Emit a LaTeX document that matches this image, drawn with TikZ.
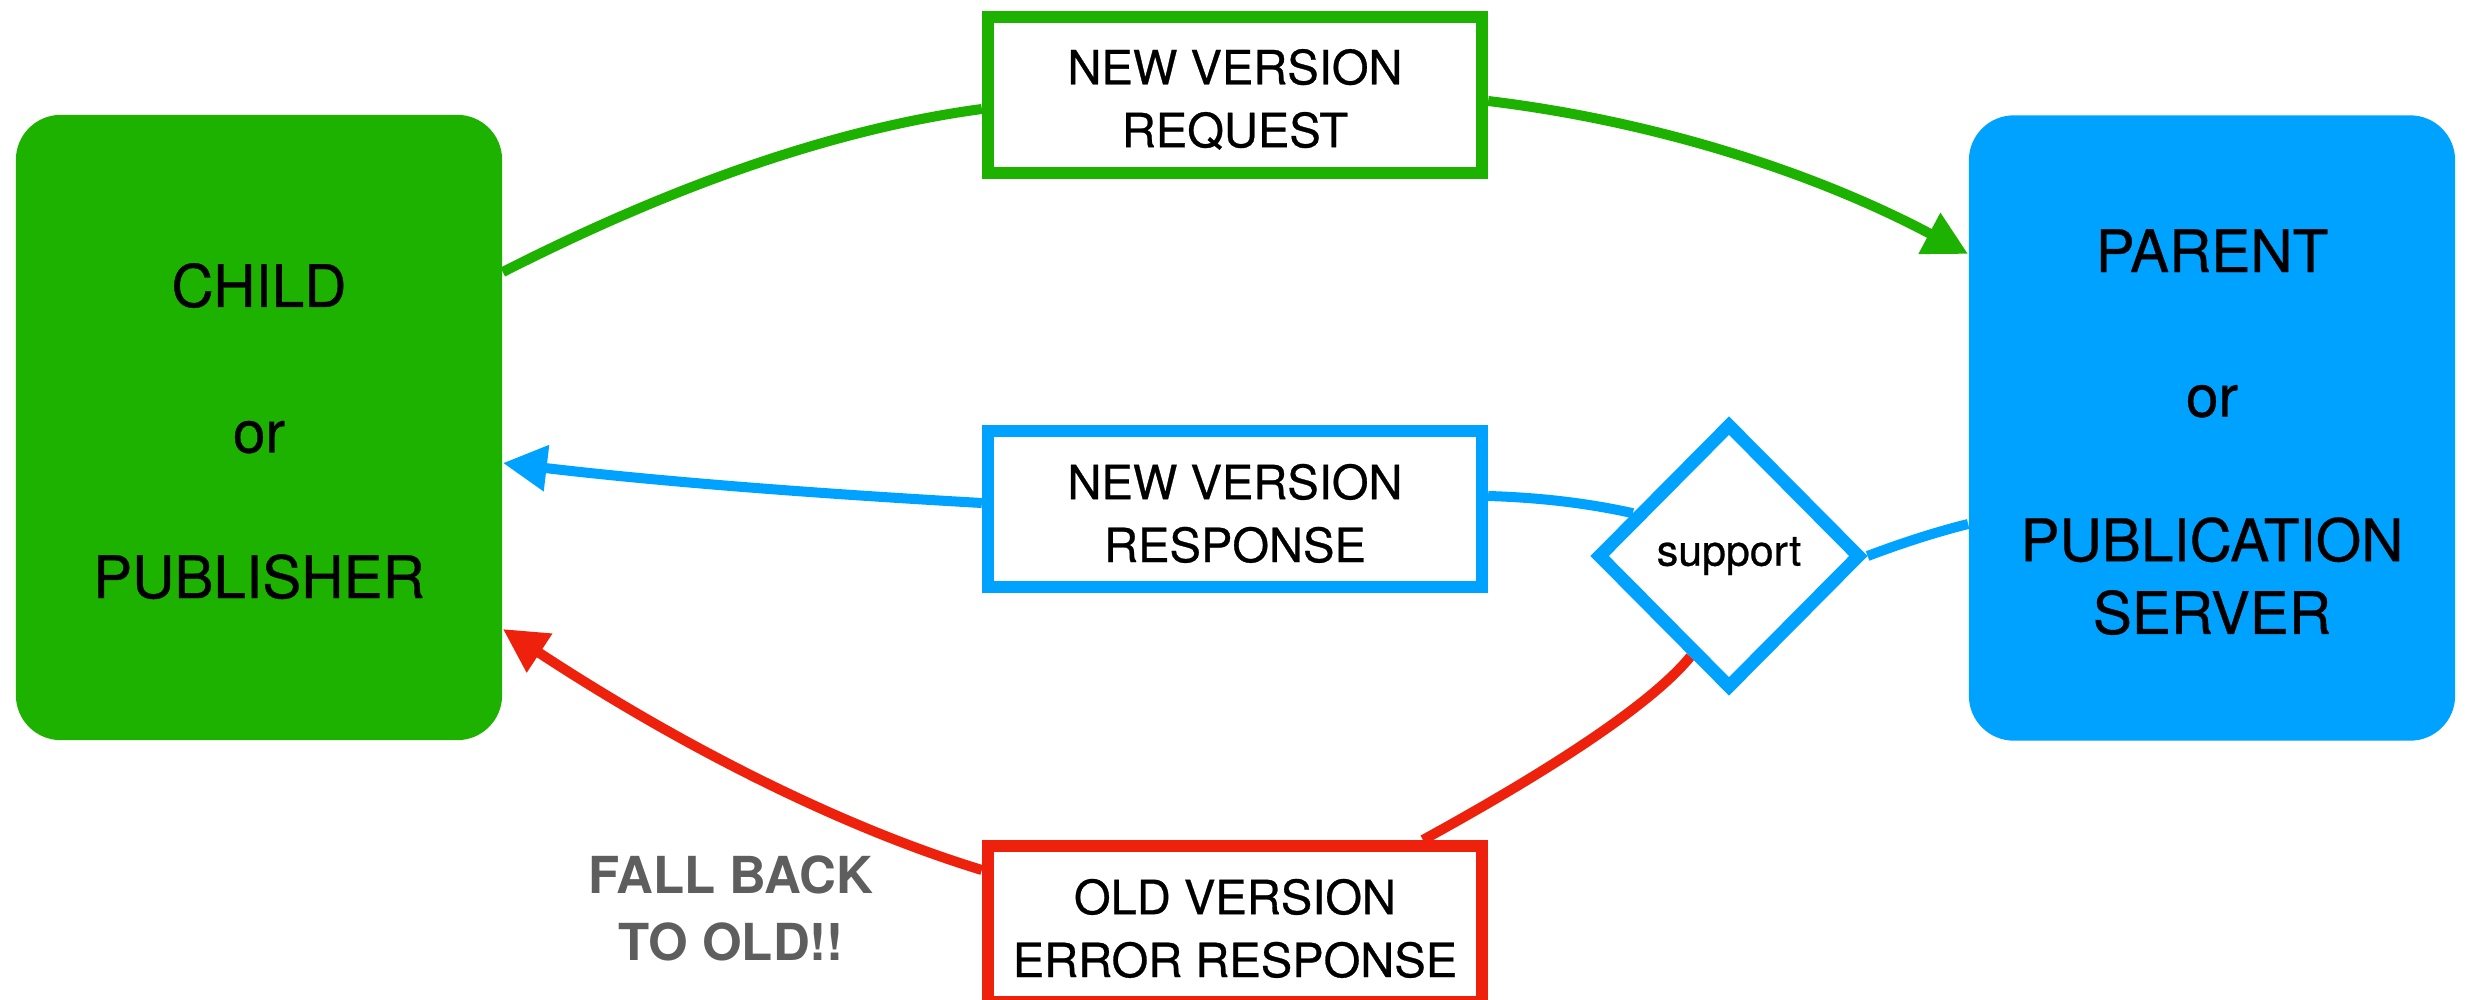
\documentclass[tikz,border=0pt]{standalone}
\usepackage{fontspec}
\setmainfont{TeX Gyre Heros}
\newfontfamily\medium{TeX Gyre Heros}[FakeBold=0.6]
\usetikzlibrary{arrows.meta,shapes.geometric,calc,backgrounds}

\definecolor{kgreen}{HTML}{1DB100}
\definecolor{kblue}{HTML}{00A2FF}
\definecolor{kred}{HTML}{EE220C}
\definecolor{kgray}{HTML}{5E5E5E}

\newcommand\actorfont{\medium\fontsize{16.64pt}{20.7pt}\selectfont}
\newcommand\msgfont{\medium\fontsize{13.4pt}{17.9pt}\selectfont}
\newcommand\decfont{\medium\fontsize{12.2pt}{14pt}\selectfont}
\newcommand\notefont{\fontsize{14.5pt}{19.1pt}\selectfont\bfseries}

\tikzset{
  actor/.style={rectangle, rounded corners=0.45cm, minimum width=4.86cm,
    minimum height=6.25cm, inner sep=0pt, align=center, font=\actorfont},
  msgbox/.style={rectangle, draw, line width=3.56pt, fill=white,
    minimum width=4.935cm, minimum height=1.555cm, inner sep=0pt,
    align=center, font=\msgfont},
  link/.style={line width=2.85pt},
  headed/.style={-{Triangle[length=12.5pt,width=12.5pt]}},
}

\begin{document}
\begin{tikzpicture}[x=0.01cm, y=-0.01cm]
\useasboundingbox (0,0) rectangle (2465,1000);

% the two parties
\node[actor, fill=kgreen] (child) at (259,427.5)
  {\strut CHILD\\[20.7pt]or\\[20.7pt]PUBLISHER};
\node[actor, fill=kblue] (parent) at (2212,428)
  {\strut PARENT\\[20.4pt]or\\[20.4pt]PUBLICATION\\SERVER};

% message labels
\node[msgbox, draw=kgreen] (req)  at (1235,95)  {\strut NEW VERSION\\REQUEST};
\node[msgbox, draw=kblue]  (resp) at (1235,509) {\strut NEW VERSION\\RESPONSE};
\node[msgbox, draw=kred]   (err)  at (1235,924) {\strut OLD VERSION\\ERROR RESPONSE};

% decision on the server side
\node[diamond, draw=kblue, line width=3.7pt, fill=white, inner sep=0pt,
  minimum width=2.64cm, minimum height=2.66cm, font=\decfont] (sup)
  at (1729,556) {support};

% side note
\node[font=\notefont, text=kgray, align=center, inner sep=0pt] (note)
  at (731,908.5) {FALL BACK\\TO OLD!!};

\begin{scope}[on background layer]
  % request: child -> parent
  \draw[link, kgreen] ($(child.east)+(0,-155.5)$)
    .. controls (680,182) and (840,128) .. ($(req.west)+(0,14)$);
  \draw[link, kgreen, headed] ($(req.east)+(0,6)$)
    .. controls (1654,121) and (1814,172) .. ($(parent.west)+(0,-174)$);

  % response: parent -> support -> child
  \draw[link, kblue] ($(parent.west)+(0,96)$)
    .. controls (1936,532) and (1902,543) .. (sup.east);
  \draw[link, kblue] (sup.156.5)
    .. controls (1587,503) and (1539,497.5) .. ($(resp.east)+(0,-13)$);
  \draw[link, kblue, headed] ($(resp.west)+(0,-6)$)
    .. controls (823,494) and (663,482) .. ($(child.east)+(0,35.5)$);

  % fallback: support -> child
  \draw[link, kred] (sup.249)
    .. controls (1655,700) and (1565,762) .. ($(err.north)+(188,0)$);
  \draw[link, kred, headed] ($(err.west)+(0,-54)$)
    .. controls (841,827) and (681,746) .. ($(child.east)+(0,201.5)$);
\end{scope}
\end{tikzpicture}
\end{document}
